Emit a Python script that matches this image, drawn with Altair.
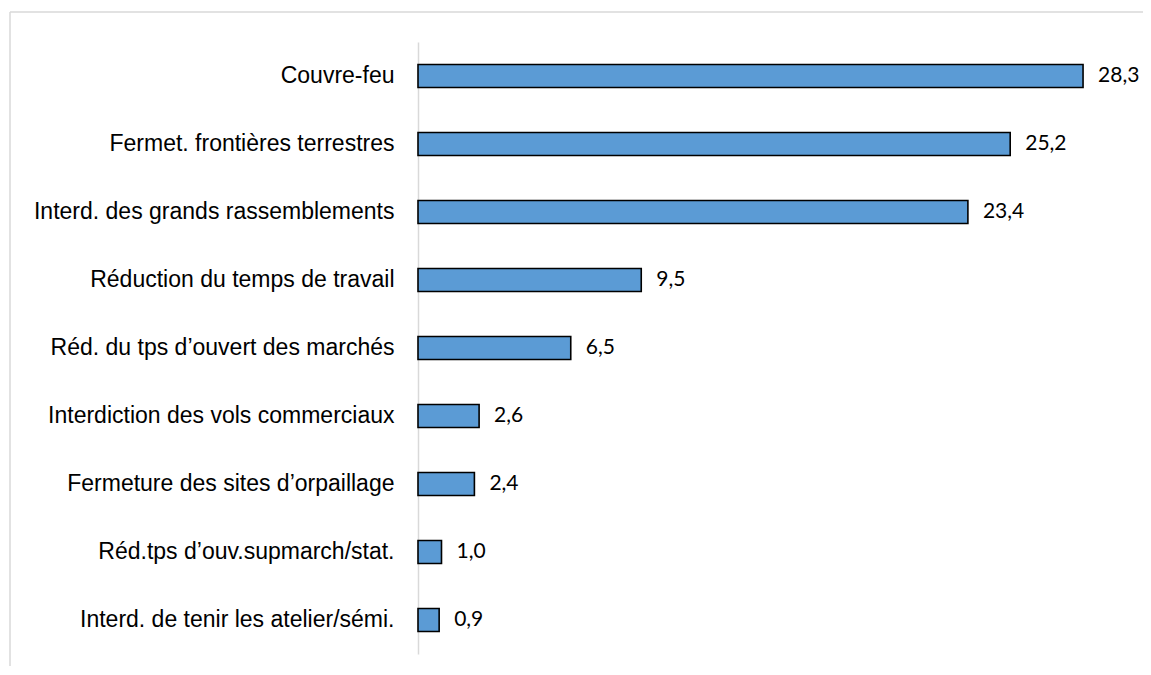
import altair as alt
import pandas as pd

categories = [
    "Couvre-feu",
    "Fermet. frontières terrestres",
    "Interd. des grands rassemblements\u2002",
    "Réduction du temps de travail\u2002",
    "Réd. du tps d’ouvert des marchés",
    "Interdiction des vols commerciaux",
    "Fermeture des sites d’orpaillage",
    "Réd.tps d’ouv.supmarch/stat.",
    "Interd. de tenir les atelier/sémi.",
]
values = [28.3, 25.2, 23.4, 9.5, 6.5, 2.6, 2.4, 1.0, 0.9]
value_labels = ["28,3", "25,2", "23,4", "9,5", "6,5", "2,6", "2,4", "1,0", "0,9"]

df = pd.DataFrame({"cat": categories, "val": values, "lab": value_labels})

y_enc = alt.Y(
    "cat:N",
    sort=categories,
    scale=alt.Scale(paddingInner=0.66, paddingOuter=0.33),
    axis=alt.Axis(
        title=None,
        ticks=False,
        grid=False,
        domain=True,
        domainColor="#d9d9d9",
        domainWidth=1.5,
        labelFont="Liberation Sans",
        labelFontSize=23,
        labelColor="#000000",
        labelPadding=24,
        labelLimit=500,
    ),
)
x_enc = alt.X("val:Q", scale=alt.Scale(domain=[0, 30], nice=False), axis=None)

bars = alt.Chart(df).mark_bar(
    color="#5B9BD5", stroke="#000000", strokeWidth=1.6, size=23
).encode(x=x_enc, y=y_enc)

labels = alt.Chart(df).mark_text(
    align="left", baseline="middle", dx=15, font="Lato", fontSize=21, color="#000000"
).encode(x=x_enc, y=alt.Y("cat:N", sort=categories), text="lab:N")

border_df = pd.DataFrame({"k": [0]})
top_border = alt.Chart(border_df).mark_rule(color="#d9d9d9", strokeWidth=1.5).encode(
    x=alt.value(-408), x2=alt.value(760), y=alt.value(-30)
)
left_border = alt.Chart(border_df).mark_rule(color="#d9d9d9", strokeWidth=1.5).encode(
    x=alt.value(-408), y=alt.value(-30), y2=alt.value(640)
)

chart = (
    alt.layer(top_border, left_border, bars, labels)
    .properties(
        width=705,
        height=612,
        autosize=alt.AutoSizeParams(type="none"),
        padding={"left": 410, "top": 34, "right": 20, "bottom": 12},
    )
    .configure(background="#ffffff")
    .configure_view(strokeWidth=0, stroke="transparent")
)

chart.save("out.html", embed_options={"renderer": "svg", "actions": False})
